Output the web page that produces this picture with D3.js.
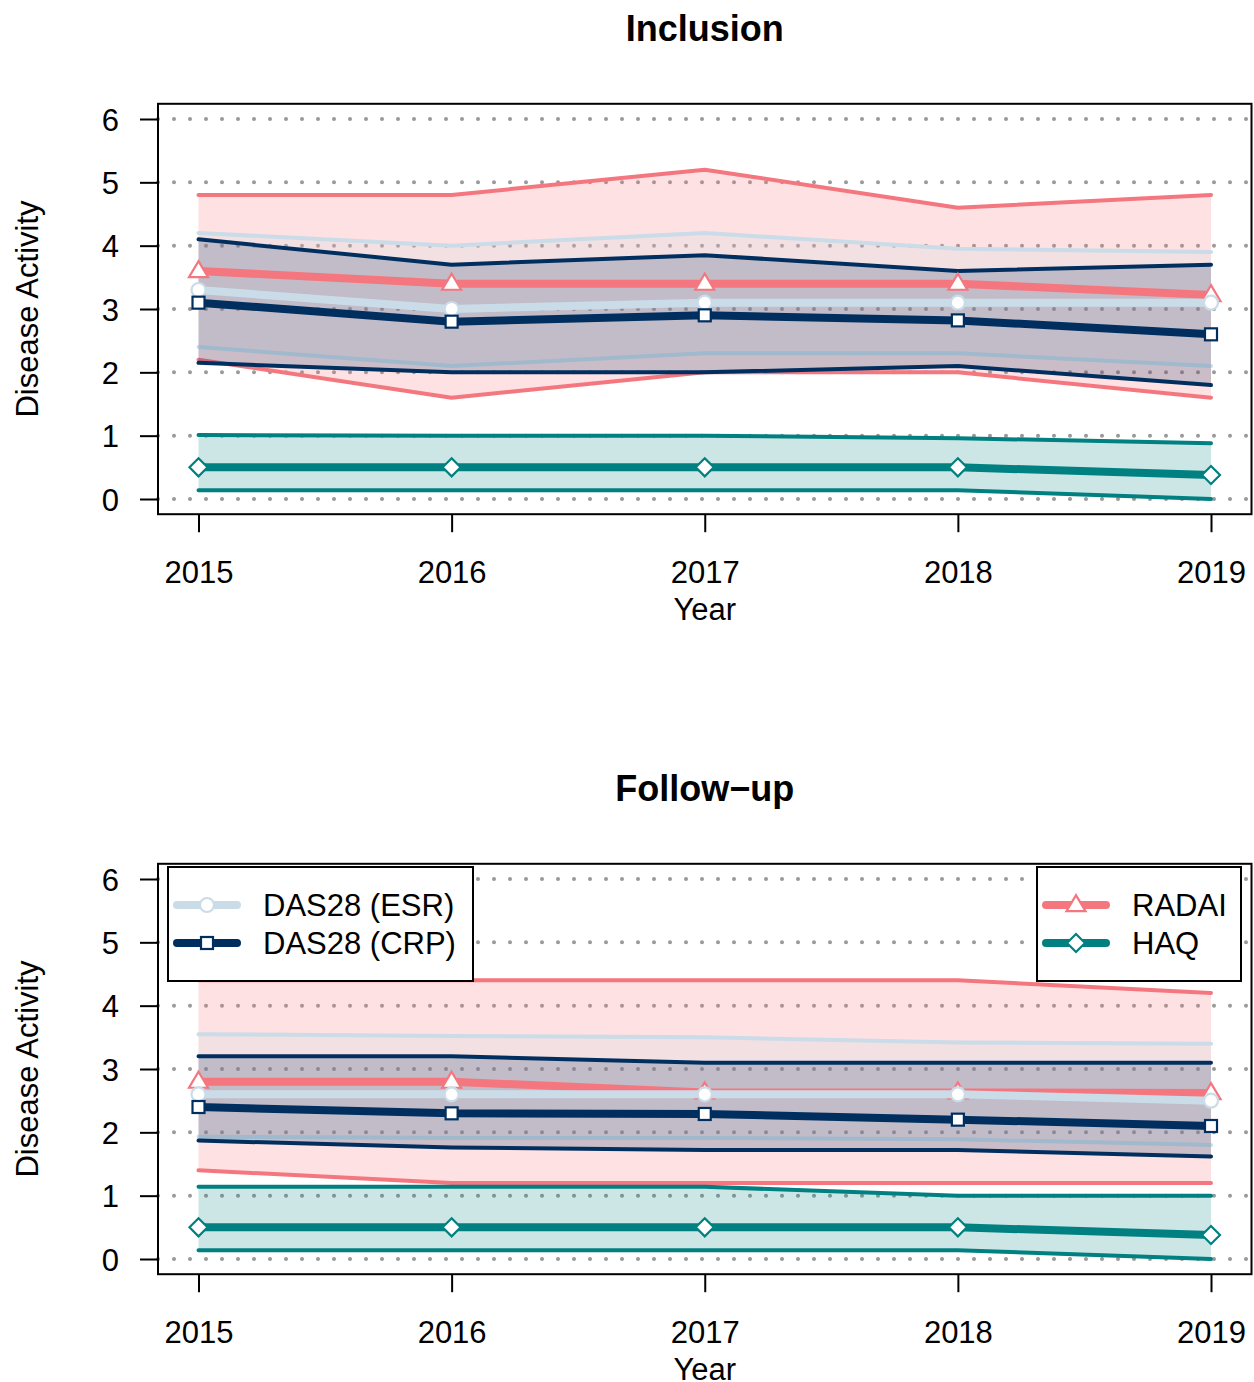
<!DOCTYPE html>
<html>
<head>
<meta charset="utf-8">
<script src="https://cdn.jsdelivr.net/npm/d3@7"></script>
<style>
  html, body { margin: 0; padding: 0; background: #fff; }
  svg { display: block; }
  text { font-family: "Liberation Sans", Arial, Helvetica, sans-serif; fill: #000; }
</style>
</head>
<body>
<svg id="chart" width="1254" height="1382"></svg>
<script>
// ---------------- Data ----------------
const years = [2015, 2016, 2017, 2018, 2019];
const yTicks = [0, 1, 2, 3, 4, 5, 6];
const panelTitles = ["Inclusion", "Follow\u2212up"];
const seriesNames = ["RADAI", "DAS28 (ESR)", "DAS28 (CRP)", "HAQ"];

// Inclusion
const inclRadaiMean = [3.6, 3.4, 3.4, 3.4, 3.22];
const inclRadaiLow  = [2.2, 1.6, 2.0, 2.0, 1.6];
const inclRadaiHigh = [4.8, 4.8, 5.2, 4.6, 4.8];
const inclEsrMean   = [3.3, 3.0, 3.1, 3.1, 3.1];
const inclEsrLow    = [2.4, 2.1, 2.3, 2.3, 2.1];
const inclEsrHigh   = [4.2, 4.0, 4.2, 3.95, 3.9];
const inclCrpMean   = [3.1, 2.8, 2.9, 2.82, 2.6];
const inclCrpLow    = [2.15, 2.0, 2.0, 2.1, 1.8];
const inclCrpHigh   = [4.1, 3.7, 3.85, 3.6, 3.7];
const inclHaqMean   = [0.5, 0.5, 0.5, 0.5, 0.38];
const inclHaqLow    = [0.14, 0.14, 0.14, 0.14, 0.0];
const inclHaqHigh   = [1.01, 1.0, 1.0, 0.96, 0.88];

// Follow-up
const fuRadaiMean = [2.8, 2.8, 2.63, 2.63, 2.62];
const fuRadaiLow  = [1.4, 1.2, 1.2, 1.2, 1.2];
const fuRadaiHigh = [4.4, 4.4, 4.4, 4.4, 4.2];
const fuEsrMean   = [2.6, 2.6, 2.6, 2.6, 2.5];
const fuEsrLow    = [1.93, 1.91, 1.91, 1.89, 1.8];
const fuEsrHigh   = [3.55, 3.52, 3.5, 3.42, 3.4];
const fuCrpMean   = [2.4, 2.3, 2.29, 2.2, 2.1];
const fuCrpLow    = [1.87, 1.76, 1.72, 1.72, 1.62];
const fuCrpHigh   = [3.2, 3.2, 3.1, 3.1, 3.1];
const fuHaqMean   = [0.5, 0.5, 0.5, 0.5, 0.38];
const fuHaqLow    = [0.14, 0.14, 0.14, 0.14, 0.0];
const fuHaqHigh   = [1.14, 1.14, 1.14, 1.0, 1.0];

// ---------------- Styling ----------------
const COL = {
  RADAI: "#F4777F",
  ESR: "#CADCE8",
  CRP: "#002F5F",
  HAQ: "#008080"
};
const FILL_OPACITY = { RADAI: 0.22, ESR: 0.2, CRP: 0.2, HAQ: 0.2 };
const FONT = 31;

const svg = d3.select("#chart");

function buildSeries(prefix) {
  const get = (k) => ({
    inclRadaiMean, inclRadaiLow, inclRadaiHigh, inclEsrMean, inclEsrLow, inclEsrHigh,
    inclCrpMean, inclCrpLow, inclCrpHigh, inclHaqMean, inclHaqLow, inclHaqHigh,
    fuRadaiMean, fuRadaiLow, fuRadaiHigh, fuEsrMean, fuEsrLow, fuEsrHigh,
    fuCrpMean, fuCrpLow, fuCrpHigh, fuHaqMean, fuHaqLow, fuHaqHigh
  })[prefix + k];
  return [
    { key: "RADAI", color: COL.RADAI, shape: "triangle", mean: get("RadaiMean"), low: get("RadaiLow"), high: get("RadaiHigh") },
    { key: "ESR", color: COL.ESR, shape: "circle", mean: get("EsrMean"), low: get("EsrLow"), high: get("EsrHigh") },
    { key: "CRP", color: COL.CRP, shape: "square", mean: get("CrpMean"), low: get("CrpLow"), high: get("CrpHigh") },
    { key: "HAQ", color: COL.HAQ, shape: "diamond", mean: get("HaqMean"), low: get("HaqLow"), high: get("HaqHigh") }
  ];
}

function drawMarker(g, shape, color, cx, cy) {
  if (shape === "circle") {
    g.append("circle").attr("cx", cx).attr("cy", cy).attr("r", 7)
      .attr("fill", "#fff").attr("stroke", color).attr("stroke-width", 2.2);
  } else if (shape === "square") {
    const s = 12;
    g.append("rect").attr("x", cx - s / 2).attr("y", cy - s / 2).attr("width", s).attr("height", s)
      .attr("fill", "#fff").attr("stroke", color).attr("stroke-width", 2.2);
  } else if (shape === "triangle") {
    const w = 19, h = 16;
    const pts = [[cx, cy - h * 0.62], [cx + w / 2, cy + h * 0.38], [cx - w / 2, cy + h * 0.38]];
    g.append("polygon").attr("points", pts.map(p => p.join(",")).join(" "))
      .attr("fill", "#fff").attr("stroke", color).attr("stroke-width", 2.2);
  } else if (shape === "diamond") {
    const r = 9;
    const pts = [[cx, cy - r], [cx + r, cy], [cx, cy + r], [cx - r, cy]];
    g.append("polygon").attr("points", pts.map(p => p.join(",")).join(" "))
      .attr("fill", "#fff").attr("stroke", color).attr("stroke-width", 2.2);
  }
}

function drawPanel(panelIndex, top, bottom, series, withLegend) {
  const left = 158, right = 1251.5;
  const x = d3.scaleLinear().domain([2014.84, 2019.16]).range([left, right]);
  const y = d3.scaleLinear().domain([-0.24, 6.24]).range([bottom, top]);
  const g = svg.append("g");

  // Grid (dotted)
  g.append("g").selectAll("line").data(yTicks).join("line")
    .attr("x1", left).attr("x2", right)
    .attr("y1", d => y(d)).attr("y2", d => y(d))
    .attr("stroke", "#999").attr("stroke-width", 4)
    .attr("stroke-linecap", "round").attr("stroke-dasharray", "0 16");

  const idx = years.map((_, i) => i);
  const lineMean = (arr) => d3.line().x(i => x(years[i])).y(i => y(arr[i]));
  const area = (s) => d3.area().x(i => x(years[i])).y0(i => y(s.low[i])).y1(i => y(s.high[i]));

  // Bands
  series.forEach(s => {
    g.append("path").attr("d", area(s)(idx))
      .attr("fill", s.color).attr("fill-opacity", FILL_OPACITY[s.key]).attr("stroke", "none");
    [s.high, s.low].forEach(arr => {
      g.append("path").attr("d", lineMean(arr)(idx))
        .attr("fill", "none").attr("stroke", s.color).attr("stroke-width", 4)
        .attr("stroke-linecap", "round").attr("stroke-linejoin", "round");
    });
  });

  // Means with markers
  series.forEach(s => {
    g.append("path").attr("d", lineMean(s.mean)(idx))
      .attr("fill", "none").attr("stroke", s.color).attr("stroke-width", 8)
      .attr("stroke-linecap", "butt").attr("stroke-linejoin", "round");
    idx.forEach(i => drawMarker(g, s.shape, s.color, x(years[i]), y(s.mean[i])));
  });

  // Box
  g.append("rect").attr("x", left).attr("y", top).attr("width", right - left).attr("height", bottom - top)
    .attr("fill", "none").attr("stroke", "#000").attr("stroke-width", 2);

  // X axis
  const xAxis = d3.axisBottom(x).tickValues(years).tickFormat(d3.format("d")).tickSize(18).tickPadding(0);
  const xa = g.append("g").attr("transform", `translate(0,${bottom})`).call(xAxis);
  xa.select(".domain").remove();
  xa.selectAll(".tick line").attr("stroke", "#000").attr("stroke-width", 2);
  xa.selectAll(".tick text").attr("font-size", FONT).attr("font-family", "Liberation Sans, Arial, sans-serif")
    .attr("fill", "#000").attr("dy", null).attr("y", 69);

  // Y axis
  const yAxis = d3.axisLeft(y).tickValues(yTicks).tickFormat(d3.format("d")).tickSize(18).tickPadding(0);
  const ya = g.append("g").attr("transform", `translate(${left},0)`).call(yAxis);
  ya.select(".domain").remove();
  ya.selectAll(".tick line").attr("stroke", "#000").attr("stroke-width", 2);
  ya.selectAll(".tick text").attr("font-size", FONT).attr("font-family", "Liberation Sans, Arial, sans-serif")
    .attr("fill", "#000").attr("x", -39).attr("dy", "0.36em");

  // Labels
  const cx = (left + right) / 2;
  g.append("text").attr("x", cx).attr("y", bottom + 106).attr("text-anchor", "middle")
    .attr("font-size", FONT).text("Year");
  g.append("text").attr("transform", `translate(38,${(top + bottom) / 2}) rotate(-90)`)
    .attr("text-anchor", "middle").attr("font-size", FONT).text("Disease Activity");
  g.append("text").attr("x", cx).attr("y", top - 63).attr("text-anchor", "middle")
    .attr("font-size", 36).attr("font-weight", "bold").text(panelTitles[panelIndex]);

  if (withLegend) {
    const legends = [
      { x0: 168, x1: 473, items: [series[1], series[2]], labels: [seriesNames[1], seriesNames[2]] },
      { x0: 1037, x1: 1241, items: [series[0], series[3]], labels: [seriesNames[0], seriesNames[3]] }
    ];
    legends.forEach(L => {
      g.append("rect").attr("x", L.x0).attr("y", 867).attr("width", L.x1 - L.x0).attr("height", 114)
        .attr("fill", "#fff").attr("stroke", "#000").attr("stroke-width", 2);
      L.items.forEach((s, k) => {
        const ly = 905 + k * 38;
        const lx0 = L.x0 + 9, lx1 = L.x0 + 69, lm = (lx0 + lx1) / 2;
        g.append("line").attr("x1", lx0).attr("x2", lx1).attr("y1", ly).attr("y2", ly)
          .attr("stroke", s.color).attr("stroke-width", 8).attr("stroke-linecap", "round");
        drawMarker(g, s.shape, s.color, lm, ly);
        g.append("text").attr("x", L.x0 + 95).attr("y", ly + 11).attr("font-size", FONT).text(L.labels[k]);
      });
    });
  }
}

drawPanel(0, 103.8, 514.2, buildSeries("incl"), false);
drawPanel(1, 863.8, 1274.2, buildSeries("fu"), true);
</script>
</body>
</html>
